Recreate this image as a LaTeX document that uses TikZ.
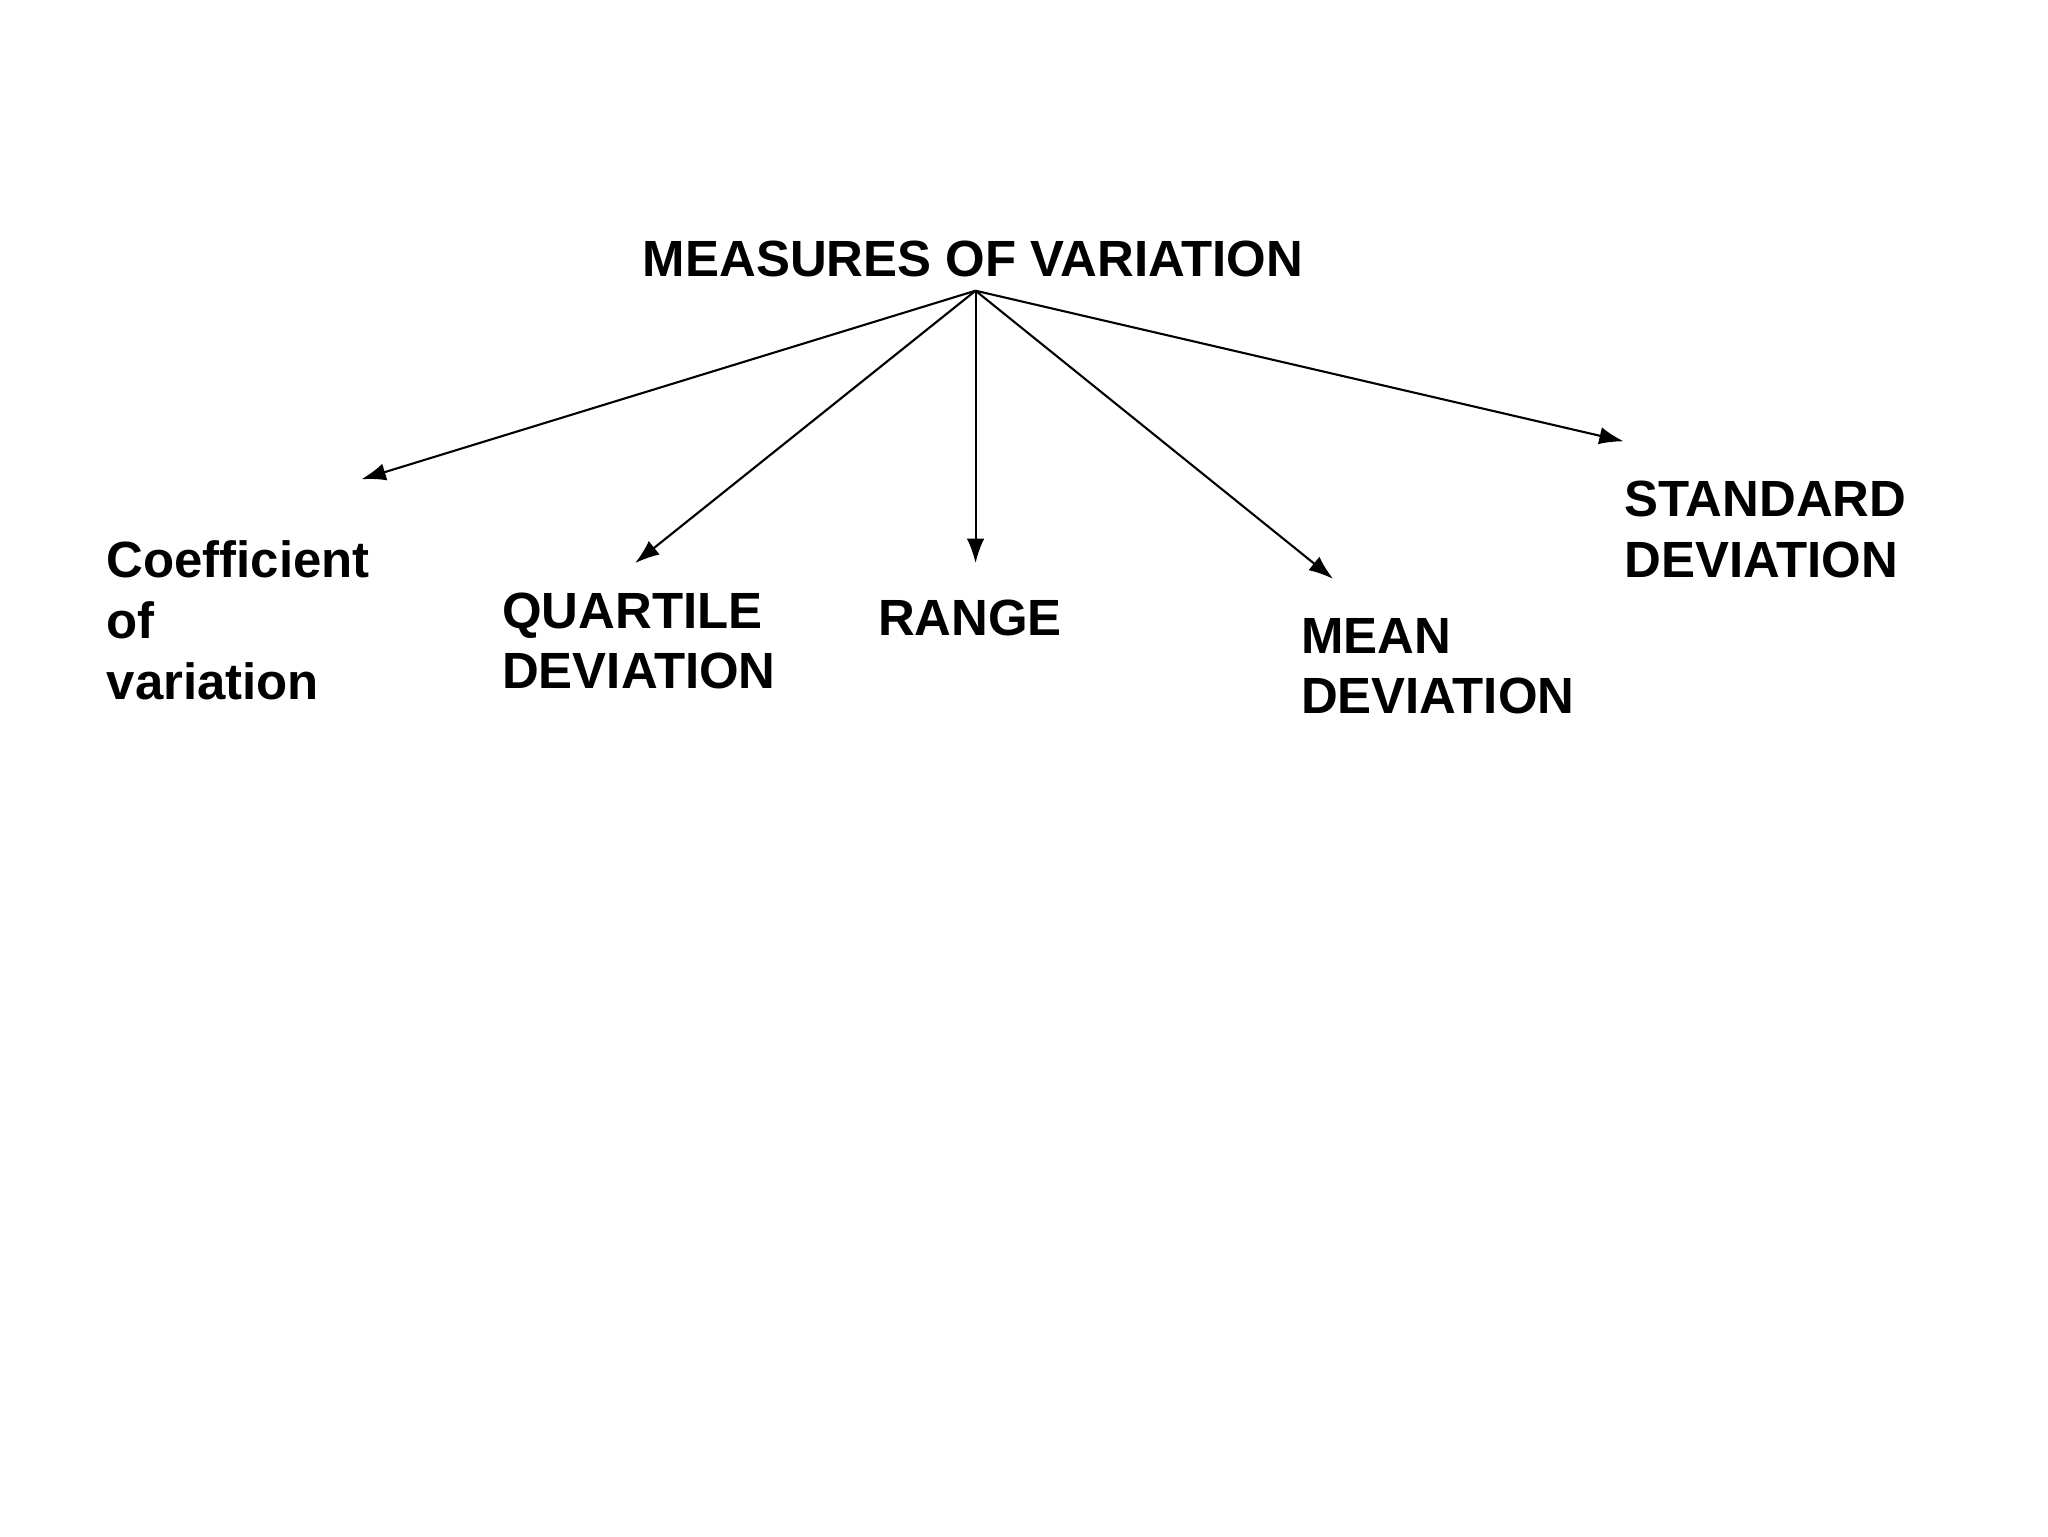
\documentclass[tikz,border=0pt]{standalone}
\usepackage{fontspec}
\setmainfont{Liberation Sans}
\usetikzlibrary{arrows.meta}
\begin{document}
\begin{tikzpicture}[x=0.0132cm,y=-0.0132cm,
  lbl/.style={font=\bfseries\fontsize{14.6}{17.4}\selectfont,align=left,inner sep=0pt,anchor=base west},
  arr/.style={-{Latex[length=7pt,width=5pt]},line width=0.6pt}]
\useasboundingbox (0,0) rectangle (1564,1173);
\node[lbl,anchor=base] (top) at (743,211) {MEASURES OF VARIATION};
\coordinate (apex) at (745,222);
\node[lbl] (cv) at (81,534) {Coefficient\\of\\variation};
\node[lbl] (qd) at (383,526) {QUARTILE\\DEVIATION};
\node[lbl] (rg) at (670,485) {RANGE};
\node[lbl] (md) at (993,545) {MEAN\\DEVIATION};
\node[lbl] (sd) at (1240,441) {STANDARD\\DEVIATION};
\coordinate (ecv) at (276,366);
\coordinate (eqd) at (485,430);
\coordinate (erg) at (745,430);
\coordinate (emd) at (1018,442);
\coordinate (esd) at (1240,337);
\foreach \e in {ecv,eqd,erg,emd,esd} \draw[arr] (apex) -- (\e);
\end{tikzpicture}
\end{document}
